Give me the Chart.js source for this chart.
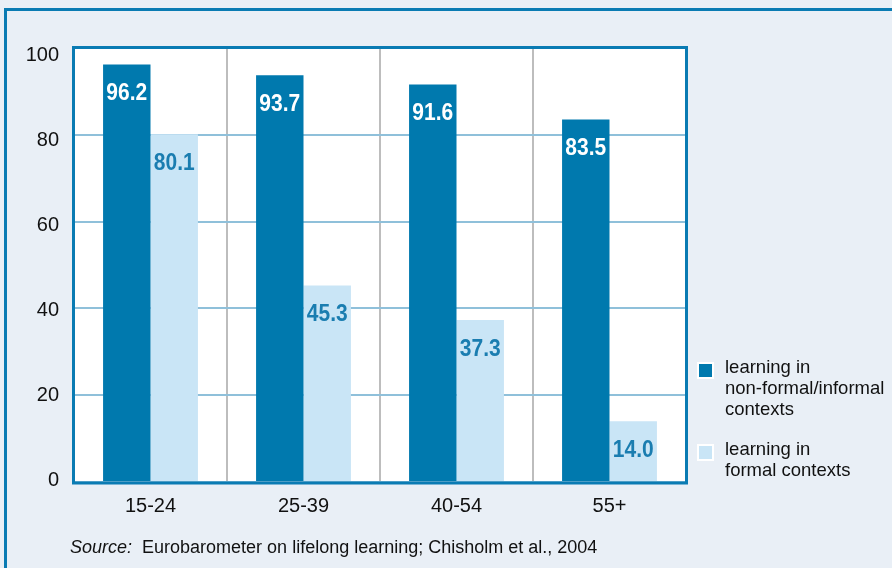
<!DOCTYPE html>
<html>
<head>
<meta charset="utf-8">
<script src="https://cdn.jsdelivr.net/npm/chart.js@4/dist/chart.umd.min.js"></script>
<style>
  html, body { margin:0; padding:0; width:892px; height:568px; overflow:hidden; background:#e9eff6; }
  #frame { position:absolute; left:4px; top:8px; width:900px; height:600px; border-left:3px solid #0a7bb3; border-top:3px solid #0a7bb3; }
  #wrap { position:absolute; left:0; top:0; width:892px; height:568px; }
  .leg { position:absolute; left:697px; font-family:"Liberation Sans",Arial,sans-serif; font-size:18.5px; line-height:21px; color:#111; }
  .leg .box { position:absolute; left:0; top:2px; width:13px; height:13px; border:2px solid #fff; }
  .leg .txt { position:absolute; left:28px; top:-4px; white-space:nowrap; }
  #source { position:absolute; left:70px; top:537px; font-family:"Liberation Sans",Arial,sans-serif; font-size:18px; color:#111; white-space:nowrap; }
</style>
</head>
<body>
<div id="frame"></div>
<div id="wrap"><canvas id="c" width="892" height="568"></canvas></div>
<div class="leg" style="top:360px;"><div class="box" id="b1"></div><div class="txt" id="l1"></div></div>
<div class="leg" style="top:442px;"><div class="box" id="b2"></div><div class="txt" id="l2"></div></div>
<div id="source"><i>Source:</i>&nbsp; Eurobarometer on lifelong learning; Chisholm et al., 2004</div>
<script>
const categories = ["15-24", "25-39", "40-54", "55+"];
const nonFormal = [96.2, 93.7, 91.6, 83.5];
const formal = [80.1, 45.3, 37.3, 14.0];
const seriesNames = [["learning in", "non-formal/informal", "contexts"], ["learning in", "formal contexts"]];
const yTicks = [0, 20, 40, 60, 80, 100];

const DARK = "#0079ae", LIGHT = "#c9e5f6", LABELBLUE = "#1a7db0";
const FONT = '"Liberation Sans",Arial,sans-serif';

document.getElementById("b1").style.background = DARK;
document.getElementById("b2").style.background = LIGHT;
document.getElementById("l1").innerHTML = seriesNames[0].join("<br>");
document.getElementById("l2").innerHTML = seriesNames[1].join("<br>");

const plotBg = {
  id: "plotBg",
  beforeDraw(chart) {
    const {ctx, chartArea: a} = chart;
    ctx.save(); ctx.fillStyle = "#fff";
    ctx.fillRect(a.left, a.top, a.right - a.left, a.bottom - a.top);
    ctx.restore();
  },
  afterDatasetsDraw(chart) {
    const {ctx, chartArea: a} = chart;
    ctx.save();
    ctx.font = "bold 21px " + FONT;
    ctx.textAlign = "center"; ctx.textBaseline = "middle";
    chart.data.datasets.forEach((ds, di) => {
      chart.getDatasetMeta(di).data.forEach((bar, i) => {
        ctx.save();
        ctx.translate(bar.x, bar.y + 29);
        ctx.scale(1, 1.12);
        ctx.fillStyle = di === 0 ? "#ffffff" : LABELBLUE;
        ctx.fillText(ds.data[i].toFixed(1), 0, 0);
        ctx.restore();
      });
    });
    ctx.strokeStyle = "#0a7bb3"; ctx.lineWidth = 3;
    ctx.strokeRect(a.left - 0.5, a.top - 0.5, a.right - a.left + 1, a.bottom - a.top + 1.5);
    ctx.restore();
  }
};

new Chart(document.getElementById("c"), {
  type: "bar",
  data: {
    labels: categories,
    datasets: [
      { data: nonFormal, backgroundColor: DARK, barPercentage: 1.0, categoryPercentage: 0.62 },
      { data: formal, backgroundColor: LIGHT, barPercentage: 1.0, categoryPercentage: 0.62 }
    ]
  },
  options: {
    responsive: false,
    animation: false,
    devicePixelRatio: 1,
    layout: { padding: { left: 0, top: 48, right: 206, bottom: 0 } },
    plugins: { legend: { display: false }, tooltip: { enabled: false } },
    scales: {
      x: {
        afterFit(s) { s.height = 86; },
        grid: { display: true, offset: true, color: "#bdbdbd", lineWidth: 2, drawTicks: false },
        border: { display: false },
        ticks: { color: "#111", font: { family: FONT, size: 20 }, padding: 12 }
      },
      y: {
        min: 0, max: 100,
        afterFit(s) { s.width = 0; },
        afterBuildTicks(s) { s.ticks = yTicks.map(v => ({ value: v })); },
        grid: { color: "#8fc0da", lineWidth: 2, drawTicks: false },
        border: { display: false },
        ticks: { display: false }
      },
      yLabels: {
        position: "left",
        min: -0.47, max: 101.76,
        afterFit(s) { s.width = 74; },
        afterBuildTicks(s) { s.ticks = yTicks.map(v => ({ value: v })); },
        grid: { display: false, drawTicks: false },
        border: { display: false },
        ticks: { color: "#111", font: { family: FONT, size: 20 }, padding: 15 }
      }
    }
  },
  plugins: [plotBg]
});
</script>
</body>
</html>
